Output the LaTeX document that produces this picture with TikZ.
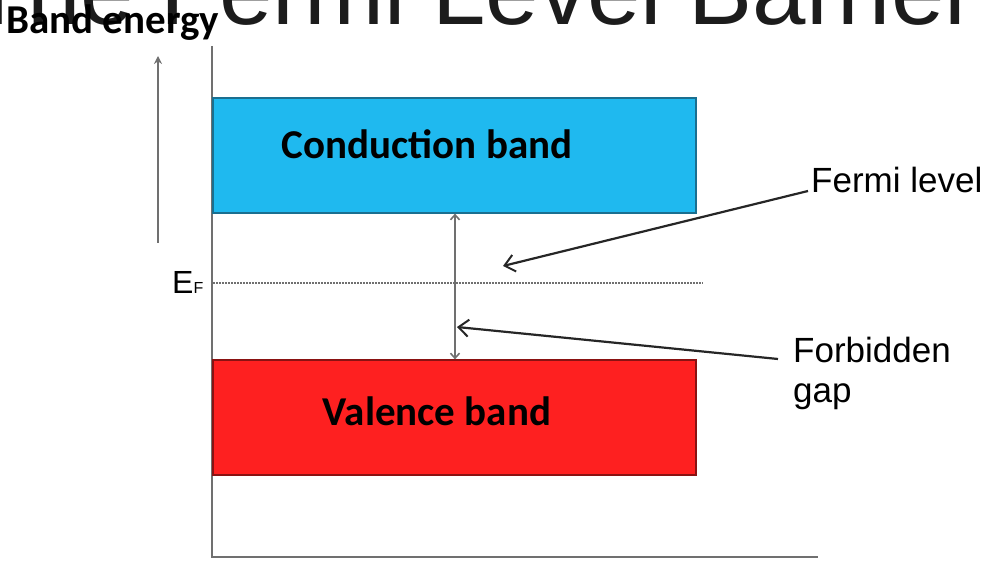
\documentclass[tikz,border=0pt]{standalone}
\usepackage{fontspec}
\setmainfont{Liberation Sans}
\newfontfamily\calfont{Carlito}
\usetikzlibrary{arrows.meta}
\definecolor{cbfill}{HTML}{1FB9EF}
\definecolor{cbedge}{HTML}{1A6F90}
\definecolor{vbfill}{HTML}{FE2020}
\definecolor{vbedge}{HTML}{8A1212}
\definecolor{axisgray}{HTML}{707070}
\definecolor{titlegray}{HTML}{1C1C1C}
\tikzset{
  axisline/.style={draw=axisgray, line width=2pt},
  bandbox/.style={minimum width=483pt, minimum height=115pt, inner sep=0pt, line width=1.2pt},
  bandlabel/.style={anchor=base, inner sep=0pt, font=\calfont\bfseries\fontsize{41}{41}\selectfont},
  sidelabel/.style={inner sep=0pt, font=\fontsize{35}{40}\selectfont, align=left},
  pointer/.style={draw=black!85, line width=2.2pt, -{Straight Barb[length=10pt,width=17pt,line width=2pt]}},
  gaparrow/.style={draw=axisgray, line width=2pt, {Straight Barb[length=5pt,width=9pt,line width=1.6pt]}-{Straight Barb[length=5pt,width=9pt,line width=1.6pt]}},
  fermiline/.style={draw=axisgray, line width=1.2pt, dash pattern=on 1.5pt off 1.5pt}
}
\begin{document}
\begin{tikzpicture}[x=1pt,y=-1pt]
\useasboundingbox (0,0) rectangle (990,561);
\clip (0,0) rectangle (990,561);

% title (clipped at the top and left)
\node[anchor=base east, inner sep=0pt, text=titlegray, font=\fontsize{96}{96}\selectfont] (title) at (977,25) {The Fermi Level Barrier};

% axis label
\node[anchor=base west, inner sep=0pt, font=\calfont\bfseries\fontsize{41}{41}\selectfont] (benergy) at (6,34) {Band energy};

% axes
\coordinate (ytop) at (212,46);
\coordinate (orig) at (212,557);
\coordinate (xend) at (818,557);
\draw[axisline] (ytop) -- (orig) -- (xend);

% up arrow
\coordinate (ua1) at (158,243);
\coordinate (ua2) at (158,56);
\draw[axisline, -{Stealth[length=8pt,width=8pt]}] (ua1) -- (ua2);

% bands
\node[bandbox, draw=cbedge, fill=cbfill] (cb) at (454.5,155.5) {};
\node[bandbox, draw=vbedge, fill=vbfill] (vb) at (454.5,417.5) {};
\node[bandlabel] (cbl) at (427,159) {Conduction band};
\node[bandlabel] (vbl) at (437,425) {Valence band};

% Fermi level
\node[anchor=base west, inner sep=0pt] (ef) at (172,293) {\fontsize{32}{32}\selectfont E\fontsize{16}{16}\selectfont F};
\coordinate (d1) at (213,283);
\coordinate (d2) at (703,283);
\draw[fermiline] (d1) -- (d2);

% gap arrow
\coordinate (gx) at (455,0);
\draw[gaparrow] (cb.south -| gx) -- (vb.north -| gx);

% labels and pointers
\node[sidelabel, anchor=base west] (fl) at (811,193) {Fermi level};
\node[sidelabel, anchor=north west] (fg) at (793,337) {Forbidden\\gap};
\coordinate (fls) at (808,191);
\coordinate (flt) at (503,266);
\draw[pointer] (fls) -- (flt);
\coordinate (fgs) at (778,359);
\coordinate (fgt) at (457,327);
\draw[pointer] (fgs) -- (fgt);
\end{tikzpicture}
\end{document}
